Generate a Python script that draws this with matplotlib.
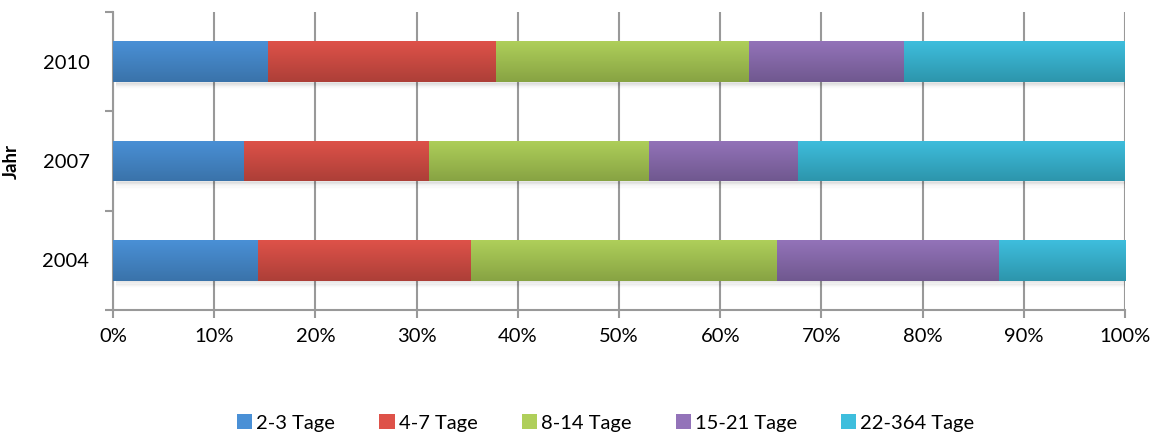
import numpy as np
import matplotlib
matplotlib.use("Agg")
import matplotlib.pyplot as plt
from matplotlib.colors import LinearSegmentedColormap
from matplotlib.patches import Rectangle

plt.rcParams['font.family'] = ['Lato', 'DejaVu Sans']

jahre = ['2004', '2007', '2010']
kategorien = ['2-3 Tage', '4-7 Tage', '8-14 Tage', '15-21 Tage', '22-364 Tage']
# Anteile in % je Jahr
anteil_2_3 = [14.3, 12.9, 15.3]
anteil_4_7 = [21.1, 18.3, 22.5]
anteil_8_14 = [30.2, 21.8, 25.0]
anteil_15_21 = [21.9, 14.7, 15.4]
anteil_22_364 = [12.5, 32.3, 21.8]

# (oben, unten) fuer den Farbverlauf
farben = [('#4a90d6', '#3a73aa'),
          ('#de5249', '#ad3f38'),
          ('#afcf5a', '#87a343'),
          ('#9373b9', '#70588f'),
          ('#3ebedd', '#2d95ac')]

werte = [anteil_2_3, anteil_4_7, anteil_8_14, anteil_15_21, anteil_22_364]

fig = plt.figure(figsize=(11.56, 4.36), dpi=100)
ax = fig.add_axes([113/1156, 1 - 310/436, 1012/1156, 298/436])

y = np.arange(len(jahre))
hoehe = 0.41
links = np.zeros(len(jahre))
grad = np.linspace(0, 1, 64).reshape(-1, 1)

for k, (name, vals) in enumerate(zip(kategorien, werte)):
    oben, unten = farben[k]
    cmap = LinearSegmentedColormap.from_list(name, [oben, unten])
    bars = ax.barh(y, vals, height=hoehe, left=links, color=oben, label=name,
                   zorder=3, linewidth=0)
    for b in bars:
        x0, y0 = b.get_x(), b.get_y()
        w, h = b.get_width(), b.get_height()
        im = ax.imshow(grad, cmap=cmap, aspect='auto', origin='upper',
                       extent=(x0, x0 + w, y0, y0 + h), zorder=3.5)
        im.set_clip_path(b)
    links += np.array(vals)

# weicher Schatten unter den Balken
for yi in y:
    for i in range(6):
        ax.add_patch(Rectangle((0.3, yi - hoehe / 2 - 0.015 - i * 0.012), 100,
                               0.03, facecolor='#000000', alpha=0.05 * (6 - i) / 6,
                               linewidth=0, zorder=2.5))

fs = 14.5
ax.set_xlim(0, 100)
ax.set_ylim(-0.5, 2.5)
ax.set_xticks(np.arange(0, 101, 10))
ax.set_xticklabels([f'{v}%' for v in range(0, 101, 10)], fontsize=fs)
ax.set_yticks(y)
ax.set_yticklabels(jahre, fontsize=fs)
ax.set_yticks([-0.5, 0.5, 1.5, 2.5], minor=True)
ax.tick_params(axis='y', which='major', length=0, pad=17)
ax.tick_params(axis='y', which='minor', length=6, color='#999999', width=1.5)
ax.tick_params(axis='x', length=6, color='#999999', width=1.5, pad=7)
ax.grid(axis='x', color='#999999', linewidth=1.5, zorder=0)
ax.set_axisbelow(True)

for s in ['top', 'right']:
    ax.spines[s].set_visible(False)
ax.spines['left'].set_color('#999999')
ax.spines['left'].set_linewidth(1.5)
ax.spines['bottom'].set_color('#999999')
ax.spines['bottom'].set_linewidth(1.5)

ax.set_ylabel('Jahr', fontsize=fs - 1, fontweight='bold', labelpad=16)

handles, labels = ax.get_legend_handles_labels()
fig.legend(handles, labels, loc='center', bbox_to_anchor=(0.524, 1 - 423/436),
           ncol=5, frameon=False, fontsize=fs, handlelength=0.75, handleheight=0.75,
           handletextpad=0.2, columnspacing=2.2)

fig.savefig('out.png', dpi=100)
